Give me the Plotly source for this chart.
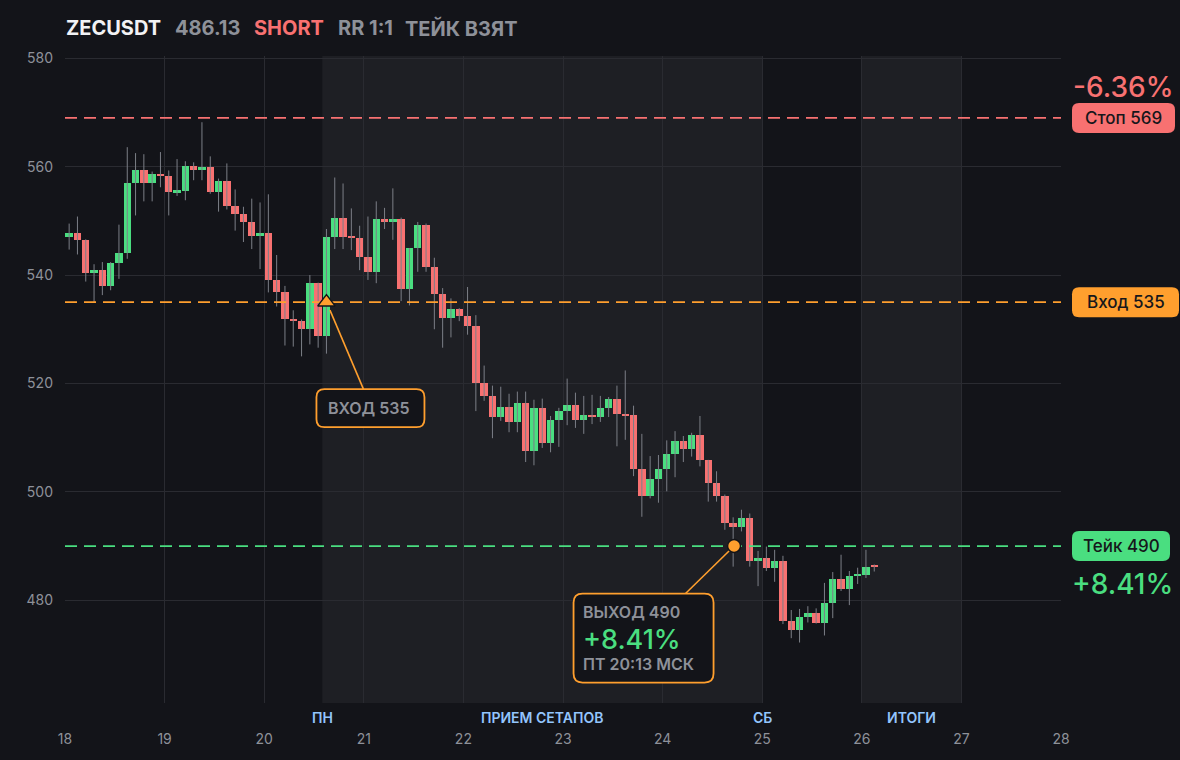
import pandas as pd
import plotly.graph_objects as go

# ---------------- data ----------------
symbol = "ZECUSDT"
last_price = "486.13"
side = "SHORT"
rr_text = "RR 1:1"
status_text = "ТЕЙК ВЗЯТ"

first_candle = "2025-10-18 01:00"   # centre of first 2h candle
candle_freq = "2h"

opens = [547.1, 547.8, 546.5, 540.3, 540.9, 538.0, 542.2, 544.1, 556.9, 559.3,
         556.9, 558.6, 558.2, 555.3, 555.6, 560.1, 559.3, 559.9, 555.3, 557.3,
         552.7, 551.2, 549.7, 547.2, 547.8, 539.0, 536.8, 531.9, 531.6, 530.0,
         538.5, 528.7, 547.0, 550.6, 547.1, 546.9, 543.4, 540.6, 550.4, 549.7,
         550.4, 537.4, 545.0, 549.3, 541.4, 536.5, 532.0, 533.7, 532.4, 530.6,
         520.1, 517.6, 513.8, 515.7, 512.9, 516.4, 507.5, 515.5, 509.0, 513.3,
         514.9, 516.1, 513.3, 514.2, 513.8, 515.5, 517.2, 514.4, 514.1, 504.3,
         499.3, 502.3, 504.3, 506.9, 509.4, 507.9, 510.5, 505.8, 501.7, 499.3,
         494.3, 493.6, 495.1, 487.3, 487.8, 486.0, 487.3, 476.1, 474.6, 476.9,
         477.6, 475.8, 479.5, 483.9, 482.1, 484.5, 484.7, 486.5]
highs = [549.5, 550.8, 546.6, 542.0, 542.4, 542.4, 549.3, 563.6, 562.5, 562.3,
         559.1, 562.7, 559.3, 561.4, 561.0, 560.8, 568.2, 561.9, 557.8, 560.6,
         555.8, 552.6, 554.1, 553.4, 554.9, 543.7, 538.0, 533.5, 531.8, 540.0,
         538.6, 548.5, 558.0, 556.9, 552.3, 549.1, 550.8, 553.6, 552.4, 556.0,
         550.6, 545.0, 549.8, 549.5, 543.2, 537.6, 535.7, 533.9, 537.8, 532.6,
         523.3, 519.6, 519.4, 518.1, 518.5, 518.5, 517.0, 517.2, 514.0, 515.5,
         520.9, 518.3, 517.7, 517.9, 517.7, 517.5, 519.6, 522.4, 515.9, 510.7,
         506.6, 506.8, 509.5, 511.2, 510.3, 510.9, 514.0, 505.9, 503.8, 499.5,
         495.3, 496.7, 496.0, 489.1, 489.9, 489.3, 488.2, 478.2, 478.4, 478.9,
         478.5, 483.2, 485.2, 488.4, 485.4, 486.0, 489.3, 486.6]
lows = [544.7, 543.8, 538.8, 534.9, 536.3, 537.2, 539.3, 543.0, 551.0, 553.6,
        553.6, 556.2, 551.0, 554.6, 553.8, 557.5, 557.5, 555.0, 551.7, 552.1,
        548.2, 546.1, 544.8, 541.1, 536.8, 534.2, 527.0, 526.8, 525.0, 527.2,
        526.6, 525.5, 544.8, 544.8, 544.6, 540.9, 539.1, 538.5, 548.5, 546.5,
        535.2, 534.4, 540.6, 540.6, 530.0, 526.6, 528.5, 531.5, 529.0, 514.9,
        516.8, 509.9, 513.1, 511.0, 511.0, 505.5, 504.9, 508.1, 507.3, 508.3,
        512.3, 511.8, 510.7, 512.5, 512.9, 513.8, 508.4, 509.6, 502.9, 495.4,
        498.8, 498.0, 500.1, 502.7, 505.5, 506.5, 504.7, 498.2, 498.2, 493.0,
        486.2, 492.7, 486.2, 482.6, 485.4, 483.4, 475.6, 473.0, 472.2, 475.9,
        475.7, 473.5, 476.7, 481.7, 479.1, 483.0, 484.1, 485.3]
closes = [547.8, 546.4, 540.3, 540.9, 538.0, 542.2, 544.1, 556.9, 559.3, 556.9,
          558.6, 558.2, 555.3, 555.6, 560.1, 559.3, 559.9, 555.3, 557.3, 552.7,
          551.2, 549.7, 547.2, 547.8, 539.0, 536.8, 531.9, 531.6, 530.0, 538.5,
          528.7, 547.0, 550.6, 547.1, 546.9, 543.4, 540.6, 550.4, 549.7, 550.4,
          537.4, 545.0, 549.3, 541.4, 536.5, 532.0, 533.7, 532.4, 530.6, 520.1,
          517.6, 513.8, 515.7, 512.9, 516.4, 507.5, 515.5, 509.0, 513.3, 514.9,
          516.1, 513.3, 514.2, 513.8, 515.5, 517.2, 514.4, 514.1, 504.3, 499.3,
          502.3, 504.3, 506.9, 509.4, 507.9, 510.5, 505.8, 501.7, 499.3, 494.3,
          493.6, 495.1, 487.3, 487.8, 486.0, 487.3, 476.1, 474.6, 476.9, 477.6,
          475.8, 479.5, 483.9, 482.1, 484.5, 484.7, 486.2, 486.13]

entry_price = 535
stop_price = 569
take_price = 490
entry_time = "2025-10-20 15:00"
exit_time = "2025-10-24 17:13"
stop_pct = "-6.36%"
take_pct = "+8.41%"
entry_text = "ВХОД 535"
exit_title = "ВЫХОД 490"
exit_when = "ПТ 20:13 МСК"
stop_label = "Стоп 569"
entry_label = "Вход 535"
take_label = "Тейк 490"

session_spans = [("2025-10-20 14:00", "2025-10-25 00:00"),
                 ("2025-10-26 00:00", "2025-10-27 00:00")]
session_labels = [("2025-10-20 14:00", "ПН"),
                  ("2025-10-22 19:00", "ПРИЕМ СЕТАПОВ"),
                  ("2025-10-25 00:00", "СБ"),
                  ("2025-10-26 12:00", "ИТОГИ")]

x_range = ["2025-10-18 00:00", "2025-10-28 00:00"]
y_range = [461.04, 580.42]
y_ticks = [480, 500, 520, 540, 560, 580]

# ---------------- styles ----------------
BG = "#131419"
SHADE = "#1e1f24"
GRID = "#2a2b31"
UP = "#4ade80"
DOWN = "#f87171"
ORANGE = "#ff9f2e"
WICK = "#7c7f87"
MUTED = "#8e9199"
BLUE = "#93c5fd"
FONT = "Inter"

times = pd.date_range(first_candle, periods=len(opens), freq=candle_freq)
body_w = pd.Timedelta(candle_freq).total_seconds() * 1000 * 0.9

fig = go.Figure()

# wicks
wx, wy = [], []
for t, h, l in zip(times, highs, lows):
    wx += [t, t, None]
    wy += [l, h, None]
fig.add_trace(go.Scatter(x=wx, y=wy, mode="lines", line=dict(color=WICK, width=1),
                         hoverinfo="skip", showlegend=False))

# bodies
for is_up, color in [(True, UP), (False, DOWN)]:
    xs, base, hgt = [], [], []
    for t, o, c in zip(times, opens, closes):
        if (c >= o) == is_up:
            xs.append(t)
            base.append(min(o, c))
            hgt.append(max(abs(c - o), 0.35))
    fig.add_trace(go.Bar(x=xs, y=hgt, base=base, width=body_w,
                         marker=dict(color=color, line=dict(width=0)),
                         showlegend=False, hoverinfo="skip"))

# level lines
for price, color in [(stop_price, DOWN), (entry_price, ORANGE), (take_price, UP)]:
    fig.add_trace(go.Scatter(x=x_range, y=[price, price], mode="lines",
                             line=dict(color=color, width=1.7, dash="12px,7px"),
                             hoverinfo="skip", showlegend=False))

# entry / exit markers
fig.add_trace(go.Scatter(x=[entry_time], y=[entry_price], mode="markers",
                         marker=dict(symbol="triangle-up", size=15, color=ORANGE,
                                     line=dict(color=BG, width=1.5)),
                         showlegend=False, hoverinfo="skip"))
fig.add_trace(go.Scatter(x=[exit_time], y=[take_price], mode="markers",
                         marker=dict(symbol="circle", size=13, color=ORANGE,
                                     line=dict(color=BG, width=1.5)),
                         showlegend=False, hoverinfo="skip"))


def rrect(x0, x1, y0, y1, r):
    # y0 bottom, y1 top (pixel units, positive up)
    return (f"M{x0 + r},{y1} L{x1 - r},{y1} Q{x1},{y1} {x1},{y1 - r} "
            f"L{x1},{y0 + r} Q{x1},{y0} {x1 - r},{y0} L{x0 + r},{y0} "
            f"Q{x0},{y0} {x0},{y0 + r} L{x0},{y1 - r} Q{x0},{y1} {x0 + r},{y1} Z")


shapes = []
for x0, x1 in session_spans:
    shapes.append(dict(type="rect", xref="x", yref="paper", x0=x0, x1=x1, y0=0, y1=1,
                       fillcolor=SHADE, line=dict(width=0), layer="below"))

# entry callout
shapes.append(dict(type="line", xref="x", yref="y", xsizemode="pixel", ysizemode="pixel",
                   xanchor=entry_time, yanchor=entry_price, x0=3.5, y0=-8, x1=37, y1=-87,
                   line=dict(color=ORANGE, width=1.6)))
shapes.append(dict(type="path", xref="x", yref="y", xsizemode="pixel", ysizemode="pixel",
                   xanchor=entry_time, yanchor=entry_price,
                   path=rrect(-10, 98, -125, -87, 8),
                   fillcolor=BG, line=dict(color=ORANGE, width=1.8), layer="above"))
# exit callout
shapes.append(dict(type="line", xref="x", yref="y", xsizemode="pixel", ysizemode="pixel",
                   xanchor=exit_time, yanchor=take_price, x0=-5, y0=-5, x1=-48.5, y1=-47.5,
                   line=dict(color=ORANGE, width=1.6)))
shapes.append(dict(type="path", xref="x", yref="y", xsizemode="pixel", ysizemode="pixel",
                   xanchor=exit_time, yanchor=take_price,
                   path=rrect(-160.5, -20.5, -136.5, -47.5, 9),
                   fillcolor=BG, line=dict(color=ORANGE, width=1.8), layer="above"))

# right badges
badges = [(stop_price, stop_label, DOWN, 103), (entry_price, entry_label, ORANGE, 107),
          (take_price, take_label, UP, 98)]
PLOT_L, PLOT_W = 65, 996
badge_left = (1072 - PLOT_L) / PLOT_W
annotations = []
for price, label, color, w in badges:
    shapes.append(dict(type="path", xref="paper", yref="y", xsizemode="pixel", ysizemode="pixel",
                       xanchor=badge_left, yanchor=price, path=rrect(0, w, -15, 15, 7),
                       fillcolor=color, line=dict(width=0), layer="above"))
    annotations.append(dict(xref="paper", yref="y", x=(1072 + w / 2 - PLOT_L) / PLOT_W, y=price,
                            text=label, showarrow=False, xanchor="center", yanchor="middle",
                            font=dict(family=FONT, size=17, color="#16171b", weight=500)))

annotations.append(dict(xref="paper", yref="y", x=(1122.5 - PLOT_L) / PLOT_W, y=stop_price,
                        yshift=31, text=stop_pct, showarrow=False, xanchor="center",
                        yanchor="middle", font=dict(family=FONT, size=28, color=DOWN, weight=500)))
annotations.append(dict(xref="paper", yref="y", x=(1122.5 - PLOT_L) / PLOT_W, y=take_price,
                        yshift=-38, text=take_pct, showarrow=False, xanchor="center",
                        yanchor="middle", font=dict(family=FONT, size=28, color=UP, weight=500)))

# entry box text
annotations.append(dict(xref="x", yref="y", x=entry_time, y=entry_price, xshift=43, yshift=-106,
                        text=entry_text, showarrow=False, xanchor="center", yanchor="middle",
                        font=dict(family=FONT, size=16, color=MUTED, weight=600)))
# exit box text
for txt, shift, size, color in [(exit_title, -65.8, 16, MUTED), (take_pct, -93.3, 27, UP),
                                (exit_when, -118.3, 16, MUTED)]:
    annotations.append(dict(xref="x", yref="y", x=exit_time, y=take_price, xshift=-153.5,
                            yshift=shift, text=txt, showarrow=False, xanchor="left",
                            yanchor="middle",
                            font=dict(family=FONT, size=size, color=color,
                                      weight=600 if size < 20 else 500)))

# session labels
for t, txt in session_labels:
    annotations.append(dict(xref="x", yref="paper", x=t, y=0, yshift=-14.5, text=txt,
                            showarrow=False, xanchor="center", yanchor="middle",
                            font=dict(family=FONT, size=14, color=BLUE, weight=600)))

# header
header = [(66, symbol, "#f2f2f4"), (175, last_price, MUTED), (254, side, DOWN),
          (338, rr_text, MUTED), (405, status_text, MUTED)]
for px, txt, color in header:
    annotations.append(dict(xref="paper", yref="paper", x=(px - PLOT_L) / PLOT_W,
                            y=1, yshift=28, xshift=-2, text=txt, showarrow=False,
                            xanchor="left", yanchor="middle",
                            font=dict(family=FONT, size=20, color=color, weight=700)))

fig.update_layout(
    width=1180, height=760,
    margin=dict(l=65, r=119, t=56, b=57),
    paper_bgcolor=BG, plot_bgcolor=BG,
    barmode="overlay", bargap=0,
    showlegend=False,
    shapes=shapes, annotations=annotations,
    font=dict(family=FONT, color=MUTED, size=14),
    xaxis=dict(type="date", range=x_range, dtick=86400000, tick0="2025-10-18",
               tickformat="%d", showgrid=True, gridcolor=GRID, gridwidth=1,
               zeroline=False, showline=False, ticks="", ticklabelstandoff=26,
               tickfont=dict(family=FONT, size=14, color=MUTED), fixedrange=True),
    yaxis=dict(range=y_range, tickvals=y_ticks, showgrid=True, gridcolor=GRID, gridwidth=1,
               zeroline=False, showline=False, ticks="", ticklabelstandoff=11,
               tickfont=dict(family=FONT, size=14, color=MUTED), fixedrange=True),
)

fig.write_html("out.html", config={"displayModeBar": False},
               post_script="document.body.style.margin='0';document.body.style.background='%s';" % BG)
